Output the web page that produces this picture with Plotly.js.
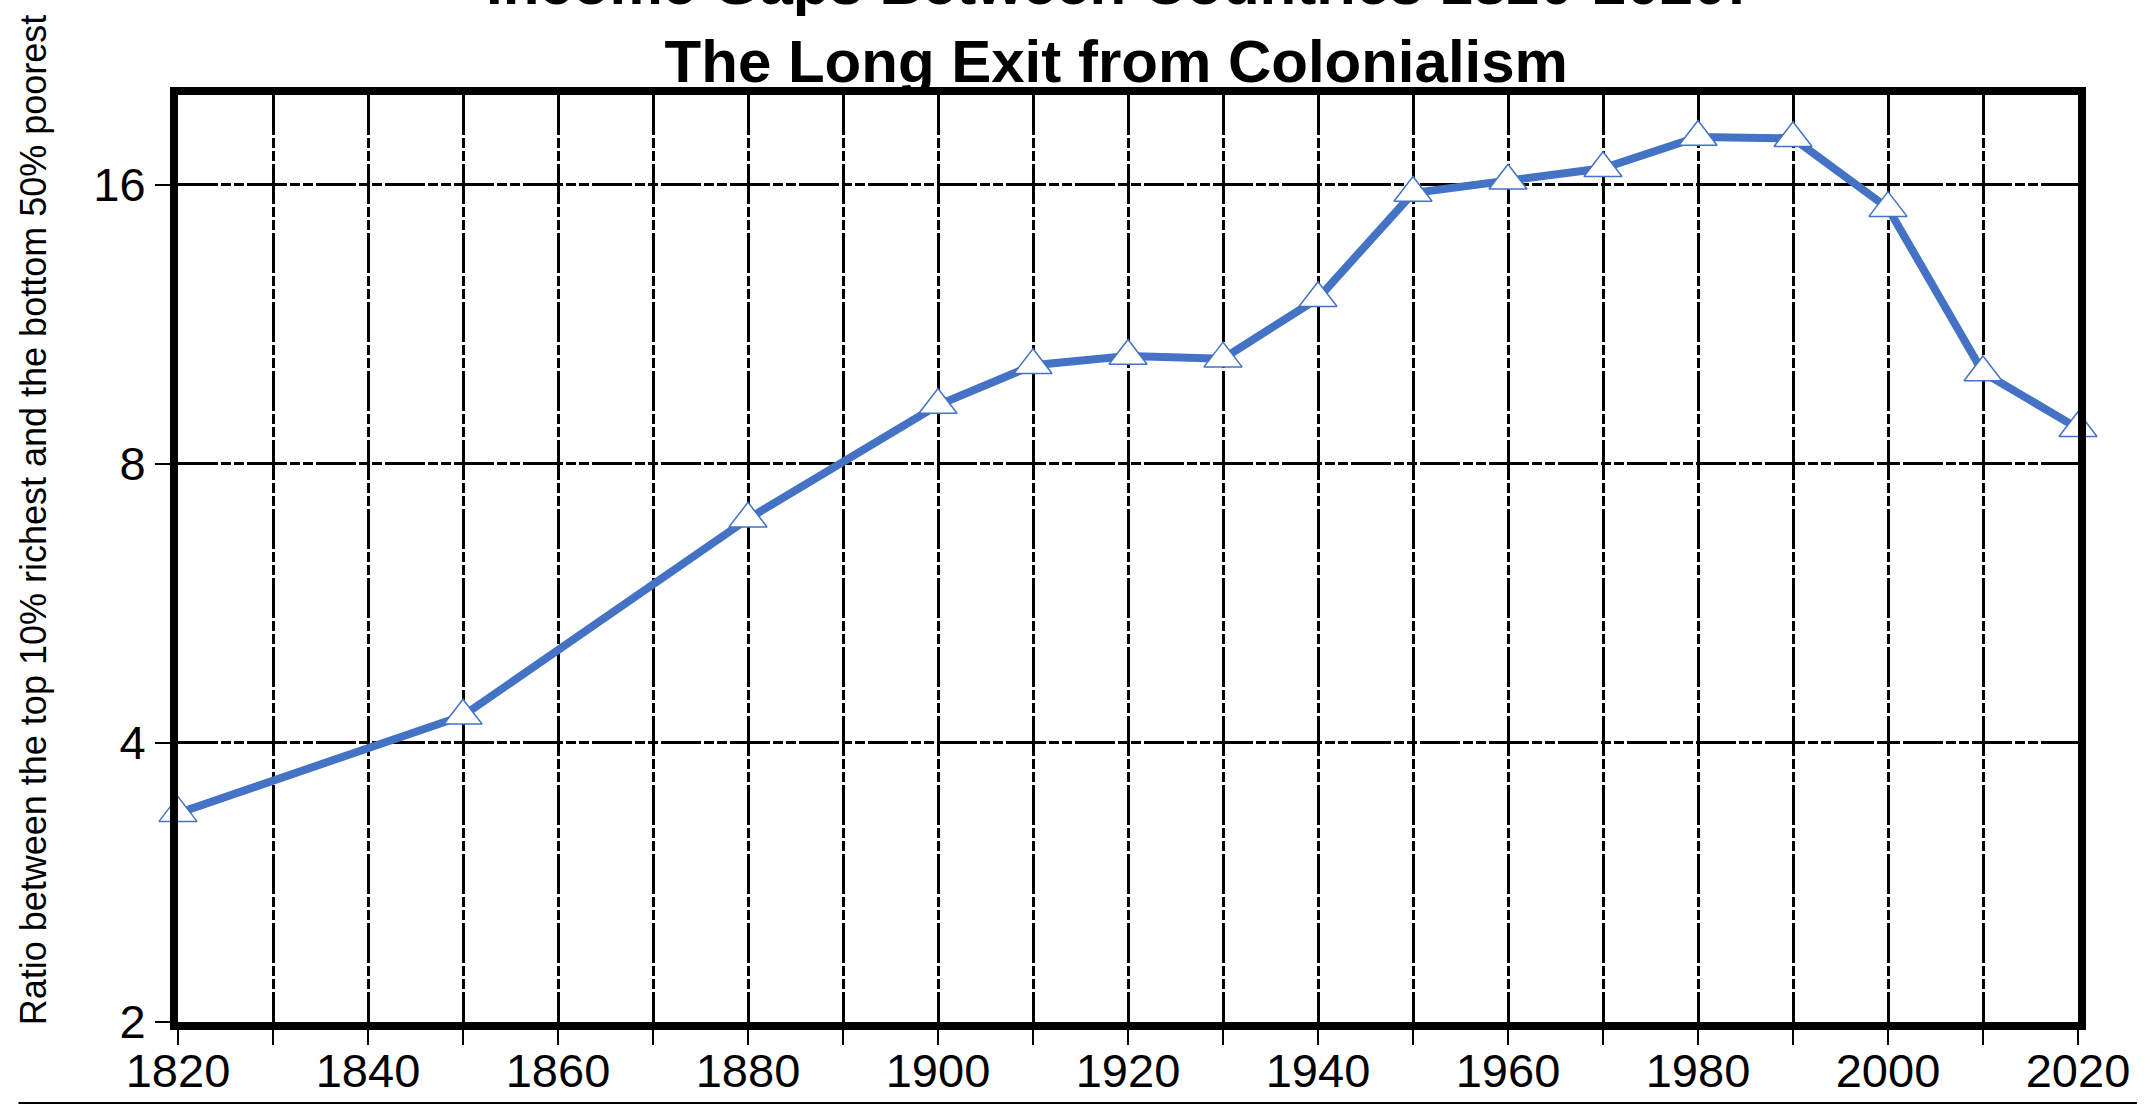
<!DOCTYPE html>
<html>
<head>
<meta charset="utf-8">
<script src="https://cdn.plot.ly/plotly-3.0.1.min.js"></script>
<style>
  html, body { margin: 0; padding: 0; background: #ffffff; }
  #chart { width: 2155px; height: 1105px; }
</style>
</head>
<body>
<div id="chart"></div>
<script>
// Data
const years = [1820, 1850, 1880, 1900, 1910, 1920, 1930, 1940, 1950, 1960, 1970, 1980, 1990, 2000, 2010, 2020];
const ratio = [3.36, 4.28, 6.98, 9.26, 10.22, 10.46, 10.39, 12.07, 15.68, 16.16, 16.67, 18.02, 17.96, 15.10, 10.04, 8.74];

const xTickVals = [1820, 1830, 1840, 1850, 1860, 1870, 1880, 1890, 1900, 1910, 1920, 1930, 1940, 1950, 1960, 1970, 1980, 1990, 2000, 2010, 2020];
const xTickText = ['1820', '', '1840', '', '1860', '', '1880', '', '1900', '', '1920', '', '1940', '', '1960', '', '1980', '', '2000', '', '2020'];
const yTickVals = [2, 4, 8, 16];
const yTickText = ['2', '4', '8', '16'];

const titleText = '<b>Income Gaps Between Countries 1820-2020:</b><br><b>The Long Exit from Colonialism</b>';
const yTitleText = 'Ratio between the top 10% richest and the bottom 50% poorest';

const FONT = 'Liberation Sans, Arial, sans-serif';
const gridDash = '40px,3px,10px,3px,10px,3px';

const trace = {
  x: years,
  y: ratio,
  type: 'scatter',
  mode: 'lines+markers',
  line: { color: '#4472C4', width: 8 },
  marker: {
    symbol: 'triangle-up',
    size: 33,
    color: '#ffffff',
    line: { color: '#4472C4', width: 1.5 }
  },
  cliponaxis: false,
  hoverinfo: 'x+y'
};

const layout = {
  width: 2155,
  height: 1105,
  margin: { l: 178, r: 77, t: 95, b: 83 },
  paper_bgcolor: '#ffffff',
  plot_bgcolor: '#ffffff',
  showlegend: false,
  font: { family: FONT, color: '#000000' },
  title: {
    text: titleText,
    font: { family: FONT, size: 60, color: '#000000' },
    xref: 'container',
    yref: 'container',
    x: 0.518,
    xanchor: 'center',
    y: 0.9964,
    yanchor: 'bottom'
  },
  xaxis: {
    type: 'linear',
    range: [1820, 2020],
    tickmode: 'array',
    tickvals: xTickVals,
    ticktext: xTickText,
    ticks: 'outside',
    ticklen: 15,
    tickwidth: 2,
    tickcolor: '#000000',
    ticklabelstandoff: -14,
    tickfont: { family: FONT, size: 47, color: '#000000' },
    showline: true,
    linecolor: '#000000',
    linewidth: 8,
    mirror: true,
    showgrid: true,
    gridcolor: '#000000',
    gridwidth: 3,
    griddash: gridDash,
    zeroline: false,
    automargin: false
  },
  yaxis: {
    type: 'log',
    range: [Math.log10(2), Math.log10(20)],
    tickmode: 'array',
    tickvals: yTickVals,
    ticktext: yTickText,
    ticks: 'outside',
    ticklen: 15,
    tickwidth: 2,
    tickcolor: '#000000',
    tickfont: { family: FONT, size: 47, color: '#000000' },
    showline: true,
    linecolor: '#000000',
    linewidth: 8,
    mirror: true,
    showgrid: true,
    gridcolor: '#000000',
    gridwidth: 3,
    griddash: gridDash,
    zeroline: false,
    automargin: false
  },
  annotations: [
    {
      text: yTitleText,
      xref: 'paper',
      yref: 'paper',
      x: -0.0762,
      y: 0.5414,
      xanchor: 'center',
      yanchor: 'middle',
      textangle: -90,
      showarrow: false,
      font: { family: FONT, size: 36, color: '#000000' }
    }
  ],
  shapes: [
    {
      type: 'line',
      xref: 'paper',
      yref: 'paper',
      x0: -0.084,
      x1: 1.031,
      y0: -0.0874,
      y1: -0.0874,
      line: { color: '#000000', width: 2 }
    }
  ]
};

Plotly.newPlot('chart', [trace], layout, { displayModeBar: false, staticPlot: true });
</script>
</body>
</html>
